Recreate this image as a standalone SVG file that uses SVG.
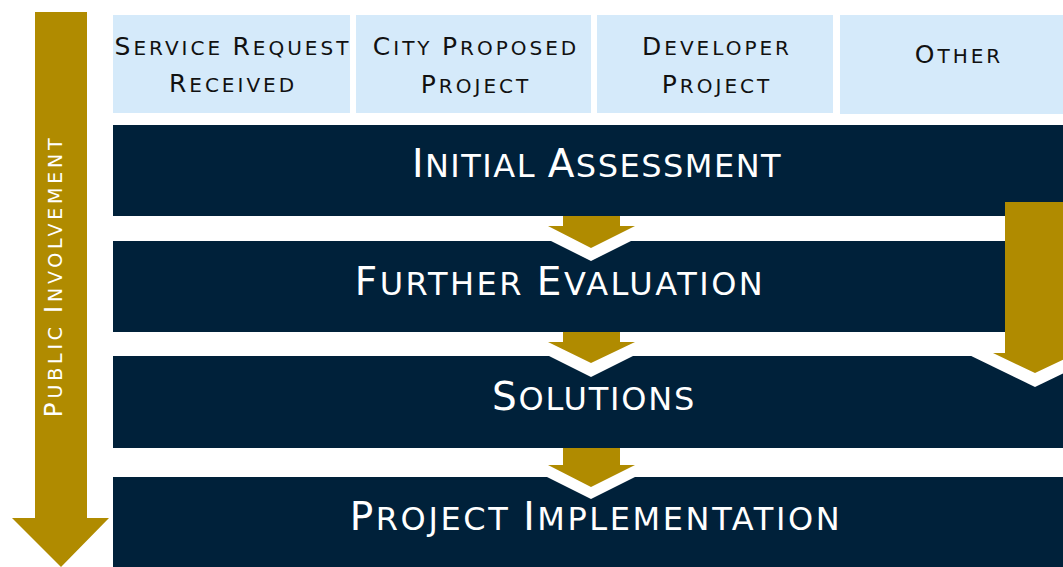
<svg xmlns="http://www.w3.org/2000/svg" width="1063" height="567" viewBox="0 0 1063 567">
<style>
.src{fill:#d5eafa}
.bar{fill:#00213a}
.gold{fill:#b08b00}
.gap{fill:#ffffff}
.t{font-family:"DejaVu Sans","Open Sans",sans-serif;text-anchor:middle}
.dk{fill:#111111;font-size:20px;letter-spacing:3px}
.dk .b{font-size:25px}
.wh{fill:#ffffff;font-size:32px;letter-spacing:2px}
.wh .b{font-size:39px}
.vt{fill:#ffffff;font-size:19px;letter-spacing:3.8px}
.vt .b{font-size:25px}
</style>
<rect width="1063" height="567" fill="#ffffff"/>
<g id="public-involvement">
<polygon class="gold" points="35,12 87,12 87,518 109,518 61,567 12,518 35,518"/>
<text class="t vt" transform="translate(62,276) rotate(-90)" x="0" y="0"><tspan class="b">P</tspan>UBLIC <tspan class="b">I</tspan>NVOLVEMENT</text>
</g>
<g id="service-request">
<rect class="src" x="113" y="15" width="237" height="98"/>
<text class="t dk" x="233" y="55"><tspan class="b">S</tspan>ERVICE <tspan class="b">R</tspan>EQUEST</text>
<text class="t dk" x="233" y="92"><tspan class="b">R</tspan>ECEIVED</text>
</g>
<g id="city-proposed">
<rect class="src" x="356" y="15" width="235" height="98"/>
<text class="t dk" x="476" y="55"><tspan class="b">C</tspan>ITY <tspan class="b">P</tspan>ROPOSED</text>
<text class="t dk" x="476" y="93"><tspan class="b">P</tspan>ROJECT</text>
</g>
<g id="developer">
<rect class="src" x="597" y="15" width="236" height="98"/>
<text class="t dk" x="717" y="55"><tspan class="b">D</tspan>EVELOPER</text>
<text class="t dk" x="717" y="93"><tspan class="b">P</tspan>ROJECT</text>
</g>
<g id="other">
<rect class="src" x="840" y="15" width="223" height="99"/>
<text class="t dk" x="959" y="63"><tspan class="b">O</tspan>THER</text>
</g>
<g id="initial-assessment">
<rect class="bar" x="113" y="125" width="950" height="91"/>
<text class="t wh" x="597" y="177" style="letter-spacing:1.5px"><tspan class="b">I</tspan>NITIAL <tspan class="b">A</tspan>SSESSMENT</text>
</g>
<g id="further-evaluation">
<rect class="bar" x="113" y="241" width="950" height="91"/>
<text class="t wh" x="560" y="295" style="letter-spacing:2.5px"><tspan class="b">F</tspan>URTHER <tspan class="b">E</tspan>VALUATION</text>
</g>
<g id="solutions">
<rect class="bar" x="113" y="356" width="950" height="92"/>
<text class="t wh" x="594" y="410" style="letter-spacing:1.8px"><tspan class="b">S</tspan>OLUTIONS</text>
</g>
<g id="project-implementation">
<rect class="bar" x="113" y="477" width="950" height="90"/>
<text class="t wh" x="596" y="530" style="letter-spacing:2.6px"><tspan class="b">P</tspan>ROJECT <tspan class="b">I</tspan>MPLEMENTATION</text>
</g>
<g id="connectors">
<polygon class="gap" points="521,226 591,261 661,226"/>
<polygon class="gold" points="563,216 620,216 620,226 635,226 591,248 548,226 563,226"/>
<polygon class="gap" points="521,342 591,377 661,342"/>
<polygon class="gold" points="563,332 620,332 620,342 635,342 591,363 548,342 563,342"/>
<polygon class="gap" points="521,464 591,499 661,464"/>
<polygon class="gold" points="563,448 620,448 620,465 635,465 591,487 548,465 563,465"/>
<polygon class="gap" points="963,352 1035,387 1107,352"/>
<polygon class="gold" points="1005,202 1065,202 1065,353 1077,353 1035,373 993,353 1005,353"/>
</g>
</svg>
